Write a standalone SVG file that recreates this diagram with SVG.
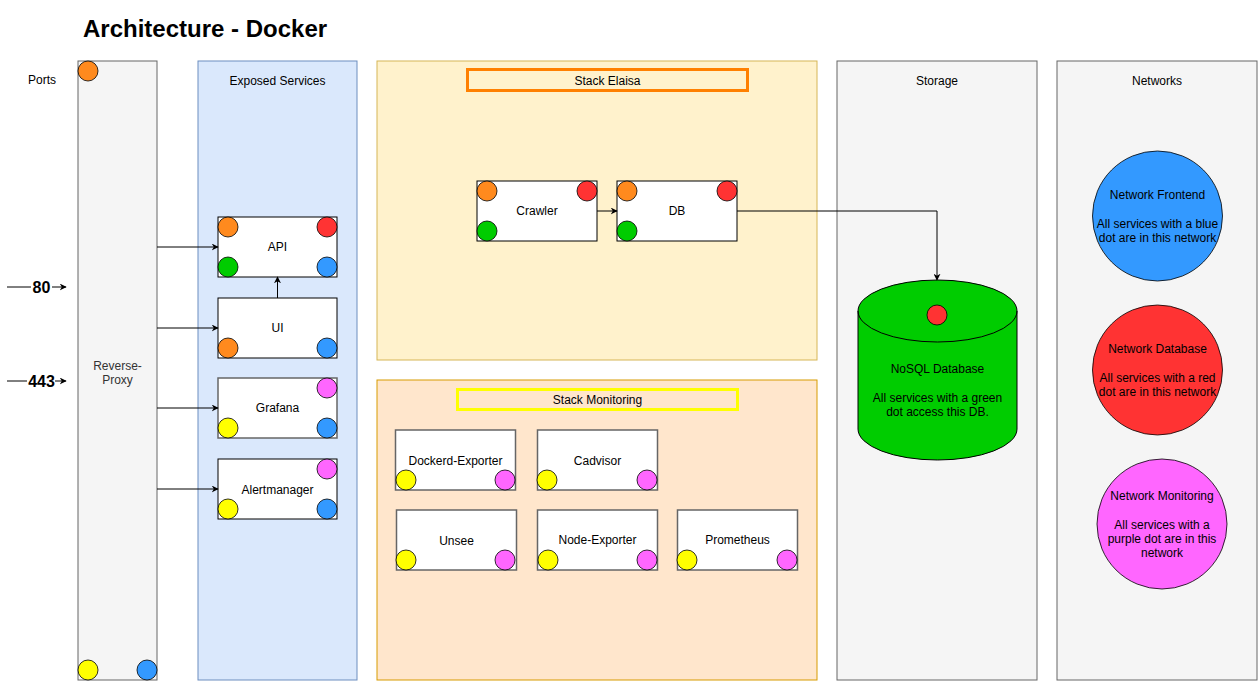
<svg xmlns="http://www.w3.org/2000/svg" width="1258" height="682" viewBox="0 0 1258 682">
<defs>
<style>
text{font-family:"Liberation Sans",Arial,sans-serif;font-size:12px;fill:#000;text-anchor:middle}
.title{font-size:24px;font-weight:bold;text-anchor:start}
.port{font-size:16px;font-weight:bold}
.grey{fill:#f5f5f5;stroke:#666;stroke-width:1}
.box{fill:#fff;stroke:#000;stroke-width:1}
.box2{fill:#fff;stroke:#666;stroke-width:1.5}
.dot{stroke:#000;stroke-width:0.8}
.o{fill:#FF8A1E}.r{fill:#FF3333}.g{fill:#00CC00}.b{fill:#3399FF}.p{fill:#FF66FF}.y{fill:#FFFF00}
.edge{fill:none;stroke:#000;stroke-width:1}
</style>
<marker id="ah" viewBox="0 0 10 10" refX="9" refY="5" markerWidth="7" markerHeight="7" orient="auto" markerUnits="userSpaceOnUse">
<path d="M0,0 L10,5 L0,10 L3,5 Z" fill="#000"/>
</marker>
</defs>
<rect width="1258" height="682" fill="#fff"/>
<text class="title" x="83" y="37">Architecture - Docker</text>

<g id="ports-label"><text x="42" y="84">Ports</text></g>

<g id="reverse-proxy">
<rect class="grey" x="78" y="61" width="79" height="619"/>
<text x="117.5" y="370" style="fill:#333">Reverse-</text>
<text x="117.5" y="384" style="fill:#333">Proxy</text>
<circle class="dot o" cx="88" cy="71" r="10"/>
<circle class="dot y" cx="88" cy="670" r="10"/>
<circle class="dot b" cx="147" cy="670" r="10"/>
</g>

<g id="exposed-services">
<rect x="198" y="61" width="159" height="619" fill="#dae8fc" stroke="#6c8ebf"/>
<text x="277.5" y="85">Exposed Services</text>
</g>

<g id="api">
<rect class="box" x="218" y="217" width="119" height="60"/>
<text x="277.5" y="251">API</text>
<circle class="dot o" cx="228" cy="227" r="10"/>
<circle class="dot r" cx="327" cy="227" r="10"/>
<circle class="dot g" cx="228" cy="267" r="10"/>
<circle class="dot b" cx="327" cy="267" r="10"/>
</g>
<g id="ui">
<rect class="box" x="218" y="298" width="119" height="60"/>
<text x="277.5" y="332">UI</text>
<circle class="dot o" cx="228" cy="348" r="10"/>
<circle class="dot b" cx="327" cy="348" r="10"/>
</g>
<g id="grafana">
<rect class="box2" x="218" y="378" width="119" height="60"/>
<text x="277.5" y="412">Grafana</text>
<circle class="dot p" cx="327" cy="388" r="10"/>
<circle class="dot y" cx="228" cy="428" r="10"/>
<circle class="dot b" cx="327" cy="428" r="10"/>
</g>
<g id="alertmanager">
<rect class="box" x="218" y="459" width="119" height="60"/>
<text x="277.5" y="494">Alertmanager</text>
<circle class="dot p" cx="327" cy="469" r="10"/>
<circle class="dot y" cx="228" cy="509" r="10"/>
<circle class="dot b" cx="327" cy="509" r="10"/>
</g>

<g id="stack-elaisa">
<rect x="377" y="61" width="440" height="299" fill="#fff2cc" stroke="#d6b656"/>
<rect x="467.5" y="69.5" width="280" height="21" fill="none" stroke="#FF8000" stroke-width="3"/>
<text x="607.5" y="84.5">Stack Elaisa</text>
</g>
<g id="crawler">
<rect class="box" x="477" y="181" width="120" height="60"/>
<text x="537" y="215">Crawler</text>
<circle class="dot o" cx="487" cy="191" r="10"/>
<circle class="dot r" cx="587" cy="191" r="10"/>
<circle class="dot g" cx="487" cy="231" r="10"/>
</g>
<g id="db">
<rect class="box" x="617" y="181" width="120" height="60"/>
<text x="677" y="215">DB</text>
<circle class="dot o" cx="627" cy="191" r="10"/>
<circle class="dot r" cx="727" cy="191" r="10"/>
<circle class="dot g" cx="627" cy="231" r="10"/>
</g>

<g id="stack-monitoring">
<rect x="377" y="380" width="440" height="300" fill="#ffe6cc" stroke="#d79b00"/>
<rect x="457.5" y="389.5" width="280" height="20" fill="none" stroke="#FFFF00" stroke-width="3"/>
<text x="597.5" y="404">Stack Monitoring</text>
</g>
<g id="dockerd-exporter">
<rect class="box2" x="395.5" y="430" width="120" height="60"/>
<text x="455.5" y="465">Dockerd-Exporter</text>
<circle class="dot y" cx="406" cy="480" r="10"/>
<circle class="dot p" cx="505" cy="480" r="10"/>
</g>
<g id="cadvisor">
<rect class="box2" x="537.5" y="430" width="120" height="60"/>
<text x="597.5" y="465">Cadvisor</text>
<circle class="dot y" cx="547" cy="480" r="10"/>
<circle class="dot p" cx="647" cy="480" r="10"/>
</g>
<g id="unsee">
<rect class="box2" x="396.5" y="510" width="120" height="60"/>
<text x="456.5" y="545">Unsee</text>
<circle class="dot y" cx="406" cy="560" r="10"/>
<circle class="dot p" cx="505" cy="560" r="10"/>
</g>
<g id="node-exporter">
<rect class="box2" x="537.5" y="510" width="120" height="60"/>
<text x="597.5" y="544">Node-Exporter</text>
<circle class="dot y" cx="548" cy="560" r="10"/>
<circle class="dot p" cx="647" cy="560" r="10"/>
</g>
<g id="prometheus">
<rect class="box2" x="677.5" y="510" width="120" height="60"/>
<text x="737.5" y="544">Prometheus</text>
<circle class="dot y" cx="687" cy="560" r="10"/>
<circle class="dot p" cx="787" cy="560" r="10"/>
</g>

<g id="storage">
<rect class="grey" x="837" y="61" width="200" height="619"/>
<text x="937" y="85">Storage</text>
</g>
<g id="nosql-database">
<path d="M858,311 A79.5,31 0 0 1 1017,311 L1017,429 A79.5,31 0 0 1 858,429 Z" fill="#00CC00" stroke="#000" stroke-width="1"/>
<path d="M858,311 A79.5,31 0 0 0 1017,311" fill="none" stroke="#000" stroke-width="1"/>
<circle class="dot r" cx="937" cy="315" r="10"/>
<text x="937.5" y="373">NoSQL Database</text>
<text x="937.5" y="402">All services with a green</text>
<text x="937.5" y="416">dot access this DB.</text>
</g>

<g id="networks">
<rect class="grey" x="1057" y="61" width="200" height="619"/>
<text x="1157" y="85">Networks</text>
</g>
<g id="network-frontend">
<circle cx="1157.5" cy="216" r="65" fill="#3399FF" stroke="#000" stroke-width="0.8"/>
<text x="1157.5" y="199">Network Frontend</text>
<text x="1157.5" y="228">All services with a blue</text>
<text x="1157.5" y="242">dot are in this network</text>
</g>
<g id="network-database">
<circle cx="1157.5" cy="370" r="65" fill="#FF3333" stroke="#000" stroke-width="0.8"/>
<text x="1157.5" y="353">Network Database</text>
<text x="1157.5" y="382">All services with a red</text>
<text x="1157.5" y="396">dot are in this network</text>
</g>
<g id="network-monitoring">
<circle cx="1162" cy="524" r="65" fill="#FF66FF" stroke="#000" stroke-width="0.8"/>
<text x="1162" y="500">Network Monitoring</text>
<text x="1162" y="529">All services with a</text>
<text x="1162" y="543">purple dot are in this</text>
<text x="1162" y="557">network</text>
</g>

<g id="connectors">
<path class="edge" d="M7,287 H66" marker-end="url(#ah)"/>
<rect x="31" y="278" width="21" height="18" fill="#fff"/>
<text class="port" x="41.5" y="293">80</text>
<path class="edge" d="M7,381 H66" marker-end="url(#ah)"/>
<rect x="27" y="372" width="28" height="18" fill="#fff"/>
<text class="port" x="41.5" y="387">443</text>
<path class="edge" d="M157,247 H218" stroke="#555" marker-end="url(#ah)"/>
<path class="edge" d="M157,328 H218" marker-end="url(#ah)"/>
<path class="edge" d="M157,408 H218" marker-end="url(#ah)"/>
<path class="edge" d="M157,489 H218" marker-end="url(#ah)"/>
<path class="edge" d="M277.5,298 V277" marker-end="url(#ah)"/>
<path class="edge" d="M597,211 H617" marker-end="url(#ah)"/>
<path class="edge" d="M737,211 H937 V280" marker-end="url(#ah)"/>
</g>
</svg>
